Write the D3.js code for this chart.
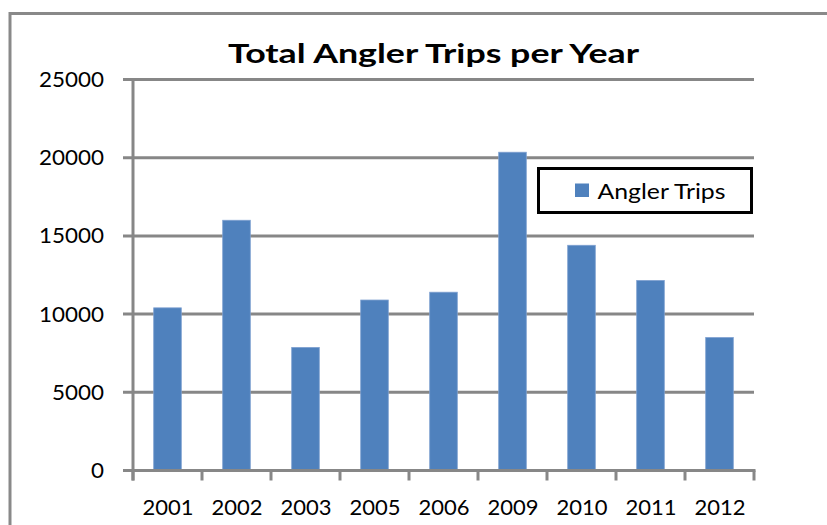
<!DOCTYPE html>
<html><head><meta charset="utf-8">
<script src="https://cdn.jsdelivr.net/npm/d3@7"></script>
<style>html,body{margin:0;padding:0;background:#fff;}svg{display:block;}</style>
</head><body>
<script>
const categories = ["2001","2002","2003","2005","2006","2009","2010","2011","2012"];
const values = [10400, 16000, 7870, 10900, 11400, 20350, 14400, 12150, 8500];
const yTicks = [0, 5000, 10000, 15000, 20000, 25000];
const seriesName = "Angler Trips";
const title = "Total Angler Trips per Year";

const W = 827, H = 525;
const svg = d3.select("body").append("svg").attr("width", W).attr("height", H);
const font = "Lato, 'Open Sans', 'Liberation Sans', sans-serif";

// outer frame
svg.append("rect").attr("x", 10).attr("y", 13.5).attr("width", 900).attr("height", 600)
  .attr("fill", "none").attr("stroke", "#898989").attr("stroke-width", 3);

const x0 = 133, x1 = 754, yTop = 79.5, yBot = 470.5;
const x = d3.scaleBand().domain(categories).range([x0, x1]).paddingInner(0).paddingOuter(0);
const y = d3.scaleLinear().domain([0, 25000]).range([yBot, yTop]);

// gridlines with left tick stubs
svg.append("g").selectAll("line").data(yTicks).join("line")
  .attr("x1", 123).attr("x2", x1).attr("y1", d => y(d)).attr("y2", d => y(d))
  .attr("stroke", "#878787").attr("stroke-width", 3);

// y axis line
svg.append("line").attr("x1", x0).attr("x2", x0).attr("y1", yTop - 1.5).attr("y2", yBot + 10)
  .attr("stroke", "#878787").attr("stroke-width", 3);

// y labels
svg.append("g").selectAll("text").data(yTicks).join("text")
  .attr("x", 104).attr("y", d => y(d) + 7.5).attr("text-anchor", "end")
  .attr("font-family", font).attr("font-size", 21).attr("fill", "#000")
  .attr("textLength", d => String(d).length * 13).attr("lengthAdjust", "spacingAndGlyphs")
  .text(d => d);

// bars
const bw = x.bandwidth();
svg.append("g").selectAll("rect").data(values).join("rect")
  .attr("x", (d, i) => x(categories[i]) + bw * 0.3)
  .attr("width", bw * 0.4)
  .attr("y", d => y(d))
  .attr("height", d => yBot - y(d))
  .attr("fill", "#4F81BD")
  .attr("stroke", "#7EA0D0").attr("stroke-width", 0.8);

// x axis line (drawn over bars bottom)
svg.append("line").attr("x1", 123).attr("x2", x1 + 1.5).attr("y1", yBot).attr("y2", yBot)
  .attr("stroke", "#878787").attr("stroke-width", 3);

// x ticks at category boundaries
const bounds = categories.map(c => x(c)).concat([x1]);
svg.append("g").selectAll("line").data(bounds).join("line")
  .attr("x1", d => d).attr("x2", d => d).attr("y1", yBot).attr("y2", yBot + 10)
  .attr("stroke", "#878787").attr("stroke-width", 3);

// x labels
svg.append("g").selectAll("text").data(categories).join("text")
  .attr("x", d => x(d) + bw / 2 + 0.5).attr("y", 515)
  .attr("text-anchor", "middle")
  .attr("font-family", font).attr("font-size", 21).attr("fill", "#000")
  .attr("textLength", 51).attr("lengthAdjust", "spacingAndGlyphs")
  .text(d => d);

// title
svg.append("text").attr("x", 433.5).attr("y", 63).attr("text-anchor", "middle")
  .attr("font-family", font).attr("font-weight", "bold").attr("font-size", 27).attr("fill", "#000")
  .attr("textLength", 411).attr("lengthAdjust", "spacingAndGlyphs")
  .text(title);

// legend
const lg = svg.append("g");
lg.append("rect").attr("x", 538.5).attr("y", 168.5).attr("width", 213).attr("height", 44)
  .attr("fill", "#fff").attr("stroke", "#000").attr("stroke-width", 3);
lg.append("rect").attr("x", 575).attr("y", 183.5).attr("width", 14).attr("height", 13.5).attr("fill", "#4F81BD");
lg.append("text").attr("x", 597.5).attr("y", 198.5)
  .attr("font-family", font).attr("font-size", 21).attr("fill", "#000")
  .attr("textLength", 128).attr("lengthAdjust", "spacingAndGlyphs")
  .text(seriesName);
</script>
</body></html>
